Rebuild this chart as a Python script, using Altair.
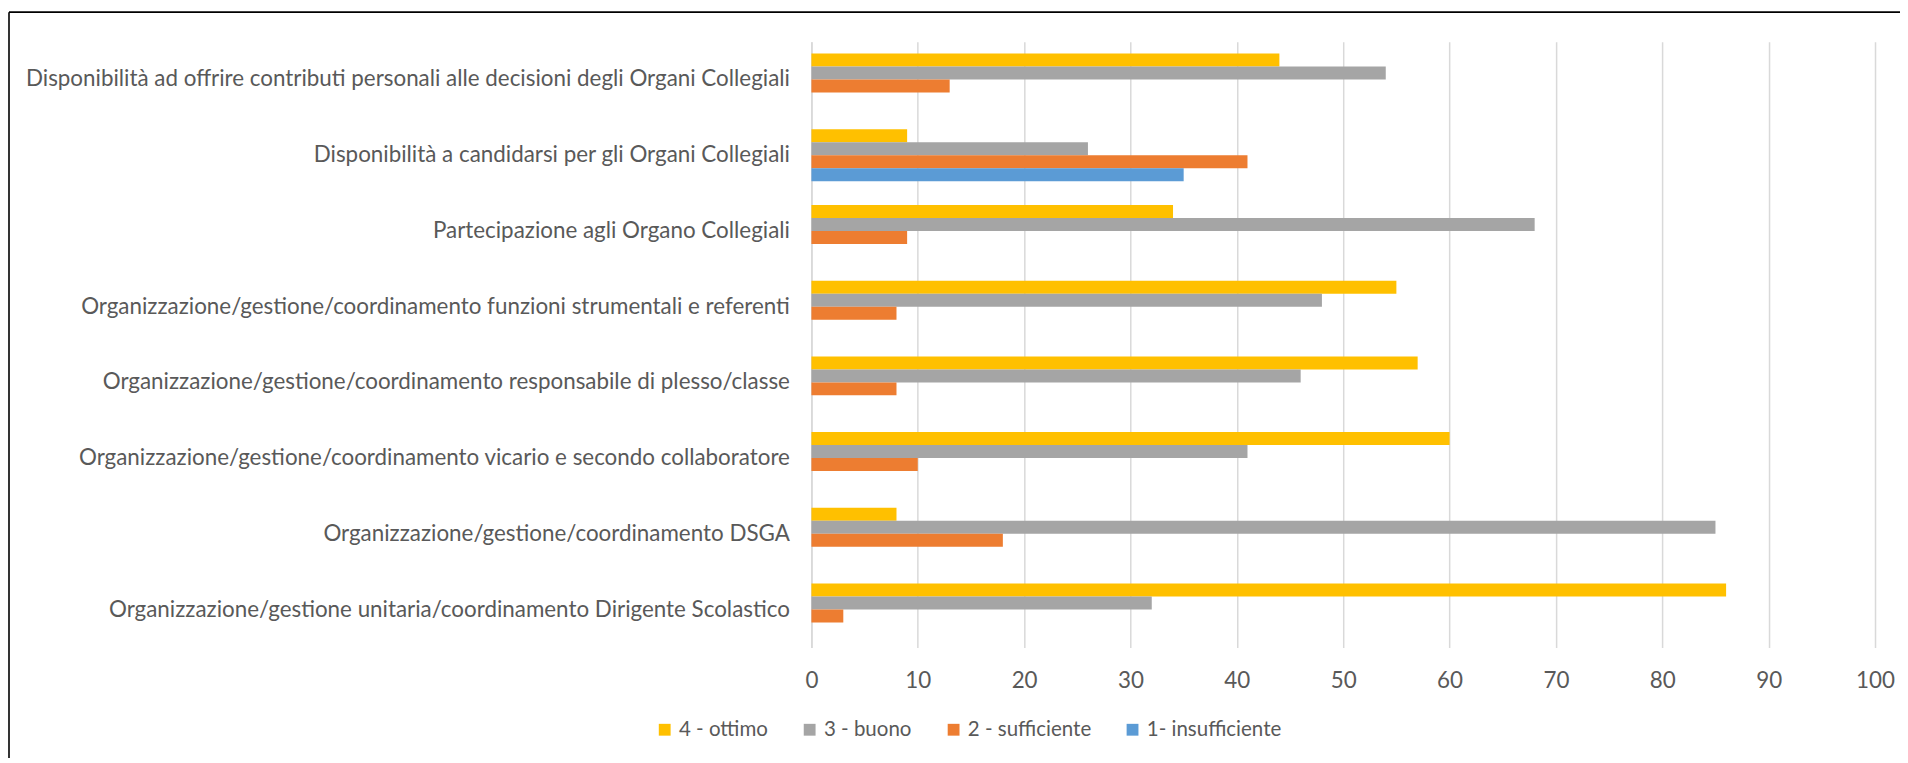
import altair as alt
import pandas as pd

categories = [
    "Disponibilità ad offrire contributi personali alle decisioni degli Organi Collegiali",
    "Disponibilità a candidarsi per gli Organi Collegiali",
    "Partecipazione agli Organo Collegiali",
    "Organizzazione/gestione/coordinamento funzioni strumentali e referenti",
    "Organizzazione/gestione/coordinamento responsabile di plesso/classe",
    "Organizzazione/gestione/coordinamento vicario e secondo collaboratore",
    "Organizzazione/gestione/coordinamento DSGA",
    "Organizzazione/gestione unitaria/coordinamento Dirigente Scolastico",
]
series = ["4 - ottimo", "3 - buono", "2 - sufficiente", "1- insufficiente"]
ottimo = [44, 9, 34, 55, 57, 60, 8, 86]
buono = [54, 26, 68, 48, 46, 41, 85, 32]
sufficiente = [13, 41, 9, 8, 8, 10, 18, 3]
insufficiente = [0, 35, 0, 0, 0, 0, 0, 0]
colors = ["#FFC000", "#A5A5A5", "#ED7D31", "#5B9BD5"]
x_ticks = [0, 10, 20, 30, 40, 50, 60, 70, 80, 90, 100]

rows = []
for s, vals in zip(series, [ottimo, buono, sufficiente, insufficiente]):
    for c, v in zip(categories, vals):
        rows.append({"cat": c, "serie": s, "val": v})
df = pd.DataFrame(rows)

FONT = "Lato"
FS = 22.4
LFS = 20.5
W, H = 1064, 606

bars = alt.Chart(df).mark_bar().encode(
    y=alt.Y(
        "cat:N", sort=categories, title=None,
        scale=alt.Scale(paddingInner=0.314, paddingOuter=0.157),
        axis=alt.Axis(labelFontSize=FS, labelColor="#595959", labelFont=FONT,
                      labelFontWeight="normal",
                      ticks=False, tickSize=0, labelPadding=22,
                      domainColor="#D9D9D9", domainWidth=1.5, labelLimit=0, grid=False),
    ),
    x=alt.X(
        "val:Q", title=None,
        scale=alt.Scale(domain=[0, 100], nice=False),
        axis=alt.Axis(values=x_ticks, grid=True, gridColor="#D9D9D9", gridWidth=1.5,
                      domain=False, ticks=False, tickSize=0, labelFontSize=FS,
                      labelColor="#595959", labelFont=FONT, labelPadding=22,
                      labelFlush=False),
    ),
    yOffset=alt.YOffset("serie:N", sort=series,
                        scale=alt.Scale(domain=series, paddingInner=0, paddingOuter=0)),
    color=alt.Color(
        "serie:N",
        scale=alt.Scale(domain=series, range=colors),
        legend=alt.Legend(
            title=None, orient="none", legendX=-157, legendY=678,
            direction="horizontal", symbolType="square", symbolSize=140,
            symbolStrokeWidth=0, labelFontSize=LFS, labelColor="#595959",
            labelFont=FONT, columnPadding=31, labelOffset=4,
        ),
    ),
)

frame = pd.DataFrame({"k": [0]})
left_border = alt.Chart(frame).mark_rule(color="#000000", strokeWidth=1.6).encode(
    x=alt.value(-802.7), y=alt.value(-29.5), y2=alt.value(720)
)
top_border = alt.Chart(frame).mark_rule(color="#000000", strokeWidth=1.6).encode(
    x=alt.value(-802.7), x2=alt.value(1095), y=alt.value(-29.5)
)

chart = alt.layer(bars, left_border, top_border).properties(
    width=W, height=H,
    autosize=alt.AutoSizeParams(type="none"),
    padding={"left": 803.7, "top": 33.5, "right": 25, "bottom": 110},
    background="white",
).configure_view(stroke=None)

chart.save("out.html", embed_options={"renderer": "svg", "actions": False})
